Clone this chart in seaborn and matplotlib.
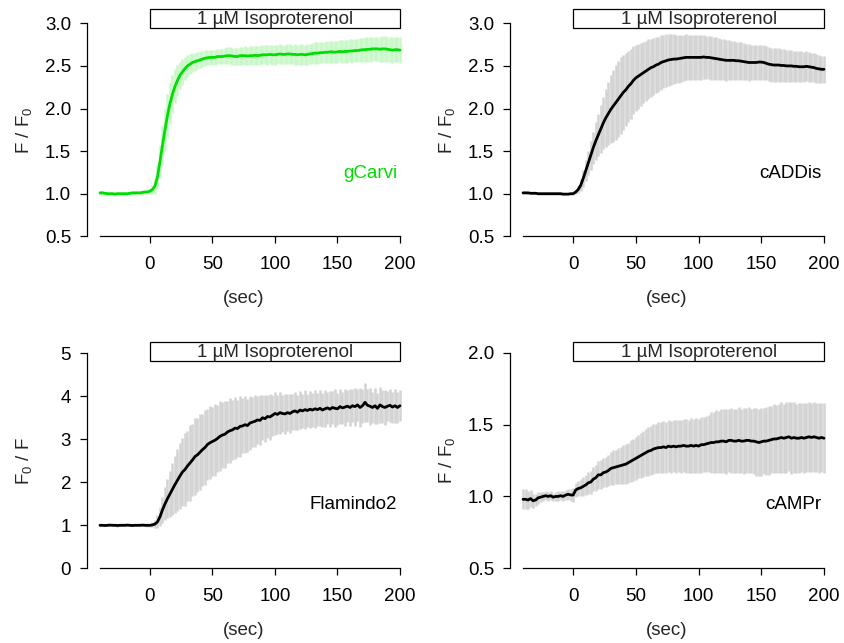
import matplotlib
matplotlib.use("Agg")
import numpy as np
import pandas as pd
import matplotlib.pyplot as plt
import matplotlib.transforms as mtransforms
from matplotlib.patches import Rectangle
import seaborn as sns

# ---------------- data (time step 2 s, -40 .. 200 s) ----------------
time = list(range(-40, 201, 2))

gcarvi_mean = [
    1.01, 1.01, 1.005, 1.00, 1.00, 1.00, 0.995, 1.00, 1.00, 1.00,
    1.00, 1.00, 1.005, 1.01, 1.01, 1.01, 1.01, 1.015, 1.02, 1.02,
    1.03, 1.05, 1.09, 1.20, 1.38, 1.57, 1.75, 1.92, 2.06, 2.17,
    2.26, 2.33, 2.39, 2.43, 2.47, 2.50, 2.52, 2.54, 2.55, 2.56,
    2.57, 2.58, 2.59, 2.595, 2.60, 2.60, 2.60, 2.61, 2.61, 2.61,
    2.615, 2.62, 2.62, 2.615, 2.61, 2.61, 2.62, 2.62, 2.62, 2.615,
    2.62, 2.62, 2.625, 2.62, 2.625, 2.63, 2.63, 2.63, 2.635, 2.63,
    2.63, 2.635, 2.64, 2.635, 2.635, 2.64, 2.64, 2.635, 2.635, 2.63,
    2.635, 2.635, 2.63, 2.635, 2.64, 2.645, 2.65, 2.65, 2.655, 2.655,
    2.66, 2.66, 2.665, 2.665, 2.66, 2.665, 2.67, 2.665, 2.67, 2.67,
    2.675, 2.675, 2.68, 2.68, 2.685, 2.69, 2.69, 2.695, 2.695, 2.70,
    2.70, 2.70, 2.695, 2.70, 2.70, 2.695, 2.69, 2.685, 2.69, 2.69,
    2.685]
gcarvi_sd = [
    0.02, 0.02, 0.02, 0.02, 0.02, 0.02, 0.02, 0.02, 0.02, 0.02,
    0.02, 0.02, 0.02, 0.02, 0.02, 0.02, 0.02, 0.025, 0.025, 0.025,
    0.03, 0.05, 0.09, 0.14, 0.19, 0.23, 0.25, 0.25, 0.24, 0.22,
    0.20, 0.18, 0.16, 0.15, 0.14, 0.13, 0.12, 0.11, 0.105, 0.10,
    0.10, 0.095, 0.095, 0.09, 0.09, 0.09, 0.09, 0.09, 0.09, 0.09,
    0.095, 0.10, 0.10, 0.10, 0.10, 0.105, 0.105, 0.105, 0.11, 0.11,
    0.11, 0.11, 0.11, 0.11, 0.11, 0.11, 0.11, 0.115, 0.115, 0.115,
    0.115, 0.115, 0.115, 0.115, 0.115, 0.115, 0.115, 0.115, 0.12, 0.12,
    0.12, 0.12, 0.12, 0.12, 0.12, 0.12, 0.125, 0.125, 0.125, 0.125,
    0.125, 0.13, 0.13, 0.13, 0.13, 0.13, 0.13, 0.135, 0.135, 0.135,
    0.135, 0.14, 0.14, 0.14, 0.14, 0.14, 0.145, 0.145, 0.145, 0.145,
    0.145, 0.145, 0.15, 0.15, 0.15, 0.15, 0.15, 0.15, 0.15, 0.15,
    0.15]

caddis_mean = [
    1.01, 1.01, 1.01, 1.005, 1.005, 1.005, 1.00, 1.00, 1.00, 1.00,
    1.00, 1.00, 1.00, 1.00, 1.00, 1.00, 0.995, 0.995, 0.995, 1.00,
    1.00, 1.02, 1.05, 1.10, 1.18, 1.27, 1.36, 1.45, 1.54, 1.62,
    1.69, 1.76, 1.83, 1.89, 1.94, 1.99, 2.03, 2.07, 2.11, 2.15,
    2.19, 2.22, 2.26, 2.29, 2.33, 2.36, 2.38, 2.40, 2.42, 2.44,
    2.46, 2.48, 2.49, 2.51, 2.52, 2.54, 2.55, 2.56, 2.57, 2.575,
    2.58, 2.58, 2.585, 2.59, 2.595, 2.60, 2.60, 2.60, 2.60, 2.60,
    2.60, 2.60, 2.605, 2.60, 2.60, 2.595, 2.59, 2.585, 2.58, 2.575,
    2.57, 2.565, 2.565, 2.565, 2.565, 2.56, 2.56, 2.555, 2.55, 2.545,
    2.54, 2.54, 2.54, 2.54, 2.545, 2.545, 2.54, 2.53, 2.52, 2.515,
    2.51, 2.51, 2.51, 2.505, 2.505, 2.50, 2.50, 2.50, 2.495, 2.495,
    2.49, 2.49, 2.49, 2.495, 2.49, 2.485, 2.48, 2.47, 2.465, 2.46,
    2.46]
caddis_sd = [
    0.01, 0.01, 0.01, 0.01, 0.01, 0.01, 0.01, 0.01, 0.01, 0.01,
    0.01, 0.01, 0.01, 0.01, 0.01, 0.01, 0.01, 0.01, 0.01, 0.01,
    0.01, 0.02, 0.04, 0.07, 0.10, 0.12, 0.14, 0.17, 0.19, 0.22,
    0.25, 0.28, 0.31, 0.34, 0.37, 0.40, 0.42, 0.44, 0.45, 0.45,
    0.44, 0.43, 0.42, 0.41, 0.40, 0.39, 0.38, 0.37, 0.36, 0.355,
    0.35, 0.34, 0.335, 0.33, 0.325, 0.32, 0.315, 0.31, 0.305, 0.30,
    0.29, 0.285, 0.28, 0.275, 0.27, 0.27, 0.265, 0.265, 0.26, 0.26,
    0.26, 0.26, 0.26, 0.255, 0.255, 0.255, 0.25, 0.25, 0.245, 0.245,
    0.24, 0.24, 0.235, 0.23, 0.23, 0.225, 0.225, 0.22, 0.22, 0.215,
    0.215, 0.21, 0.21, 0.21, 0.205, 0.205, 0.205, 0.20, 0.20, 0.20,
    0.195, 0.195, 0.195, 0.19, 0.19, 0.19, 0.185, 0.185, 0.185, 0.18,
    0.18, 0.18, 0.175, 0.175, 0.175, 0.17, 0.17, 0.165, 0.165, 0.16,
    0.16]

flamindo_mean = [
    1.00, 1.00, 0.995, 1.00, 1.005, 1.00, 1.00, 0.995, 1.00, 1.00,
    1.00, 1.005, 1.00, 0.995, 1.00, 1.00, 1.00, 1.005, 1.00, 1.00,
    1.00, 1.01, 1.03, 1.08, 1.20, 1.36, 1.50, 1.62, 1.73, 1.84,
    1.95, 2.05, 2.15, 2.24, 2.30, 2.38, 2.45, 2.52, 2.60, 2.64,
    2.70, 2.76, 2.81, 2.88, 2.92, 2.95, 2.98, 3.02, 3.07, 3.10,
    3.12, 3.17, 3.20, 3.22, 3.26, 3.25, 3.30, 3.31, 3.34, 3.32,
    3.38, 3.40, 3.42, 3.45, 3.44, 3.50, 3.48, 3.53, 3.52, 3.56,
    3.60, 3.58, 3.62, 3.60, 3.59, 3.62, 3.60, 3.64, 3.66, 3.63,
    3.68, 3.66, 3.69, 3.67, 3.70, 3.68, 3.71, 3.69, 3.72, 3.68,
    3.71, 3.73, 3.70, 3.74, 3.72, 3.71, 3.76, 3.73, 3.75, 3.77,
    3.74, 3.78, 3.76, 3.80, 3.74, 3.78, 3.86, 3.79, 3.77, 3.74,
    3.78, 3.72, 3.80, 3.76, 3.74, 3.77, 3.79, 3.75, 3.78, 3.74,
    3.78]
flamindo_sd = [
    0.02, 0.025, 0.02, 0.02, 0.025, 0.02, 0.02, 0.025, 0.02, 0.02,
    0.02, 0.02, 0.025, 0.02, 0.02, 0.025, 0.02, 0.02, 0.025, 0.03,
    0.03, 0.06, 0.10, 0.15, 0.22, 0.30, 0.38, 0.46, 0.54, 0.60,
    0.66, 0.72, 0.76, 0.80, 0.84, 0.82, 0.88, 0.84, 0.90, 0.86,
    0.88, 0.84, 0.87, 0.82, 0.85, 0.80, 0.83, 0.78, 0.81, 0.76,
    0.78, 0.72, 0.75, 0.70, 0.72, 0.66, 0.70, 0.64, 0.66, 0.61,
    0.63, 0.58, 0.60, 0.55, 0.58, 0.52, 0.55, 0.50, 0.53, 0.48,
    0.50, 0.46, 0.49, 0.44, 0.47, 0.43, 0.46, 0.42, 0.45, 0.41,
    0.44, 0.40, 0.45, 0.39, 0.43, 0.40, 0.44, 0.38, 0.42, 0.39,
    0.43, 0.37, 0.42, 0.39, 0.44, 0.37, 0.41, 0.38, 0.43, 0.37,
    0.42, 0.38, 0.44, 0.37, 0.45, 0.39, 0.46, 0.38, 0.43, 0.37,
    0.42, 0.36, 0.41, 0.38, 0.40, 0.35, 0.39, 0.36, 0.40, 0.35,
    0.36]

campr_mean = [
    0.98, 0.98, 0.975, 0.985, 0.97, 0.975, 0.99, 0.995, 1.00, 1.005,
    1.00, 1.005, 0.995, 1.00, 1.00, 1.005, 1.00, 1.01, 1.015, 1.01,
    1.01, 1.045, 1.055, 1.06, 1.07, 1.08, 1.095, 1.10, 1.12, 1.13,
    1.15, 1.15, 1.165, 1.17, 1.18, 1.195, 1.20, 1.205, 1.21, 1.215,
    1.22, 1.225, 1.235, 1.245, 1.255, 1.265, 1.275, 1.285, 1.295, 1.305,
    1.315, 1.32, 1.33, 1.335, 1.34, 1.34, 1.345, 1.34, 1.35, 1.345,
    1.35, 1.345, 1.35, 1.35, 1.355, 1.35, 1.35, 1.355, 1.35, 1.355,
    1.35, 1.36, 1.36, 1.365, 1.37, 1.375, 1.375, 1.38, 1.38, 1.385,
    1.385, 1.38, 1.39, 1.39, 1.385, 1.385, 1.39, 1.385, 1.385, 1.39,
    1.39, 1.385, 1.385, 1.38, 1.375, 1.38, 1.385, 1.385, 1.39, 1.395,
    1.40, 1.40, 1.405, 1.41, 1.405, 1.41, 1.415, 1.405, 1.41, 1.405,
    1.405, 1.41, 1.405, 1.41, 1.415, 1.41, 1.415, 1.41, 1.405, 1.41,
    1.405]
campr_sd = [
    0.07, 0.07, 0.065, 0.06, 0.05, 0.045, 0.04, 0.035, 0.03, 0.03,
    0.03, 0.03, 0.03, 0.03, 0.035, 0.03, 0.035, 0.035, 0.04, 0.045,
    0.05, 0.05, 0.055, 0.06, 0.065, 0.07, 0.075, 0.08, 0.085, 0.09,
    0.095, 0.10, 0.10, 0.105, 0.11, 0.115, 0.12, 0.12, 0.125, 0.13,
    0.135, 0.14, 0.14, 0.145, 0.145, 0.15, 0.15, 0.155, 0.16, 0.165,
    0.17, 0.17, 0.175, 0.17, 0.175, 0.175, 0.18, 0.175, 0.18, 0.18,
    0.18, 0.185, 0.18, 0.185, 0.185, 0.19, 0.185, 0.19, 0.19, 0.19,
    0.19, 0.195, 0.19, 0.195, 0.20, 0.21, 0.215, 0.22, 0.215, 0.22,
    0.22, 0.225, 0.22, 0.225, 0.22, 0.225, 0.23, 0.225, 0.23, 0.225,
    0.23, 0.225, 0.23, 0.235, 0.23, 0.235, 0.23, 0.235, 0.24, 0.235,
    0.24, 0.235, 0.24, 0.245, 0.24, 0.245, 0.24, 0.25, 0.245, 0.24,
    0.245, 0.24, 0.245, 0.24, 0.245, 0.24, 0.245, 0.24, 0.245, 0.24,
    0.245]

sensor_names = ["gCarvi", "cADDis", "Flamindo2", "cAMPr"]
y_labels = [r"F / F$_{0}$", r"F / F$_{0}$", r"F$_{0}$ / F", r"F / F$_{0}$"]
y_ticks = [[0.5, 1.0, 1.5, 2.0, 2.5, 3.0],
           [0.5, 1.0, 1.5, 2.0, 2.5, 3.0],
           [0, 1, 2, 3, 4, 5],
           [0.5, 1.0, 1.5, 2.0]]
y_tick_labels = [["0.5", "1.0", "1.5", "2.0", "2.5", "3.0"],
                 ["0.5", "1.0", "1.5", "2.0", "2.5", "3.0"],
                 ["0", "1", "2", "3", "4", "5"],
                 ["0.5", "1.0", "1.5", "2.0"]]
x_ticks = [0, 50, 100, 150, 200]
x_tick_labels = ["0", "50", "100", "150", "200"]
stim_label = "1 µM Isoproterenol"
stim_start, stim_end = 0, 200

means = [gcarvi_mean, caddis_mean, flamindo_mean, campr_mean]
sds = [gcarvi_sd, caddis_sd, flamindo_sd, campr_sd]
for m, s in zip(means, sds):
    assert len(m) == len(time) and len(s) == len(time)

# ---------------- style ----------------
sns.set_style("ticks")
plt.rcParams["font.family"] = ["Liberation Sans", "DejaVu Sans"]
plt.rcParams["mathtext.fontset"] = "custom"
plt.rcParams["mathtext.rm"] = "Liberation Sans"
plt.rcParams["mathtext.it"] = "Liberation Sans:italic"
plt.rcParams["mathtext.default"] = "regular"

FS = 13.5
GREEN = "#00dd00"
line_colors = [GREEN, "black", "black", "black"]
bar_colors = ["#c8f7c8", "#d3d3d3", "#d3d3d3", "#d3d3d3"]
label_colors = [GREEN, "black", "black", "black"]

W, H = 845, 643
fig = plt.figure(figsize=(W / 100, H / 100), dpi=100)

# axes rectangles in pixels: (left, right, top, bottom)
rects_px = [(87, 400, 23.3, 236.3), (510, 824, 23.3, 236.3),
            (87, 400, 353.3, 568.3), (510, 824, 352.7, 568.3)]
ylabel_right_px = [34, 457, 34, 457]
box_px = [(9, 28.3), (9, 28.3), (341.7, 361), (341.7, 361)]

for i in range(4):
    l, r, t, b = rects_px[i]
    ax = fig.add_axes([l / W, (H - b) / H, (r - l) / W, (b - t) / H])
    m = np.array(means[i])
    s = np.array(sds[i])
    df = pd.DataFrame({"time": time, "mean": m, "lo": m - s, "hi": m + s})

    ax.vlines(df["time"], df["lo"], df["hi"], colors=bar_colors[i],
              linewidth=1.8, zorder=1, clip_on=False)
    sns.lineplot(data=df, x="time", y="mean", ax=ax, color=line_colors[i],
                 linewidth=2.0, estimator=None, zorder=3, clip_on=False)

    yt = y_ticks[i]
    ax.set_xlim(-50.4, 200)
    ax.set_ylim(yt[0], yt[-1])
    ax.set_xticks(x_ticks)
    ax.set_xticklabels(x_tick_labels)
    ax.set_yticks(yt)
    ax.set_yticklabels(y_tick_labels[i])

    for sp in ["top", "right"]:
        ax.spines[sp].set_visible(False)
    ax.spines["left"].set_bounds(yt[0], yt[-1])
    ax.spines["bottom"].set_bounds(-40, 200)
    for sp in ["left", "bottom"]:
        ax.spines[sp].set_linewidth(0.9)
        ax.spines[sp].set_color("black")
    ax.tick_params(axis="x", direction="out", length=5, width=0.9,
                   colors="black", labelsize=FS, pad=9.5)
    ax.tick_params(axis="y", direction="out", length=5, width=0.9,
                   colors="black", labelsize=FS, pad=6.5)

    ax.set_xlabel("(sec)", fontsize=FS)
    ax.xaxis.set_label_coords(0.5, -54 / (b - t))
    ax.set_ylabel(y_labels[i], fontsize=FS)
    ax.yaxis.set_label_coords((ylabel_right_px[i] - l) / (r - l), 0.5)

    # stimulus box
    trans = mtransforms.blended_transform_factory(ax.transData, ax.transAxes)
    y0 = (b - box_px[i][1]) / (b - t)
    y1 = (b - box_px[i][0]) / (b - t)
    ax.add_patch(Rectangle((stim_start, y0), stim_end - stim_start, y1 - y0,
                           transform=trans, facecolor="white", edgecolor="black",
                           linewidth=0.9, clip_on=False, zorder=5))
    ax.text((stim_start + stim_end) / 2, (y0 + y1) / 2 - 0.004, stim_label,
            transform=trans, ha="center", va="center", fontsize=FS, zorder=6)

    ax.text(198, 0.295, sensor_names[i], transform=trans, ha="right", va="center",
            fontsize=FS, color=label_colors[i])

fig.savefig("out.png", dpi=100)
